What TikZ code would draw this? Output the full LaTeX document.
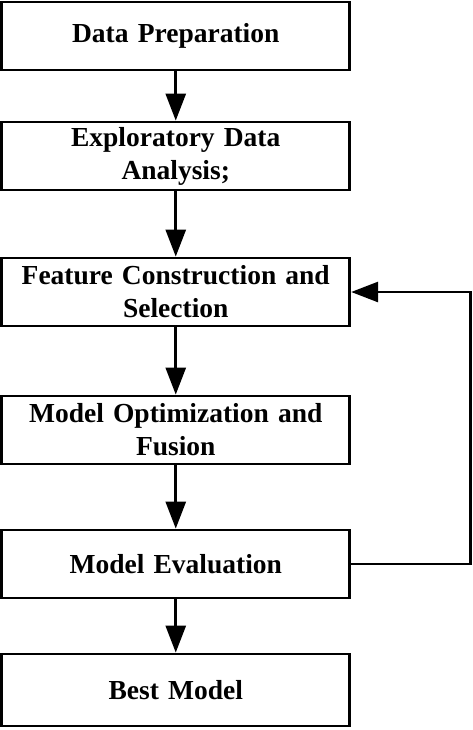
\documentclass[tikz,border=0pt]{standalone}
\usepackage{fontspec}
\setmainfont{Liberation Serif}
\usetikzlibrary{arrows.meta,positioning}
\tikzset{
  etapa/.style={draw,line width=2.8pt,minimum width=348pt,minimum height=68pt,
    text width=340pt,align=center,inner sep=0pt,
    font=\bfseries\fontsize{27.5}{33}\selectfont},
  flecha/.style={-{Triangle[length=27pt,width=20pt]},line width=2.8pt}
}
\begin{document}
\begin{tikzpicture}[x=1pt,y=1pt]
\useasboundingbox (0,0) rectangle (472,-730);
% etapas
\node[etapa] (prep) at (175.75,-36) {Data Preparation};
\node[etapa] (eda) at (175.75,-156) {Exploratory Data\\Analysis;};
\node[etapa] (feat) at (175.75,-292) {Feature Construction and\\Selection};
\node[etapa] (opt) at (175.75,-430) {Model Optimization and\\Fusion};
\node[etapa] (eval) at (175.75,-564) {Model Evaluation};
\node[etapa,minimum height=72pt] (best) at (175.75,-690) {Best Model};
% flechas
\draw[flecha] (prep) -- (eda);
\draw[flecha] (eda) -- (feat);
\draw[flecha] (feat) -- (opt);
\draw[flecha] (opt) -- (eval);
\draw[flecha] (eval) -- (best);
% retorno
\draw[flecha] (eval.east) -- ++(119.5,0) |- (feat.east);
\end{tikzpicture}
\end{document}
